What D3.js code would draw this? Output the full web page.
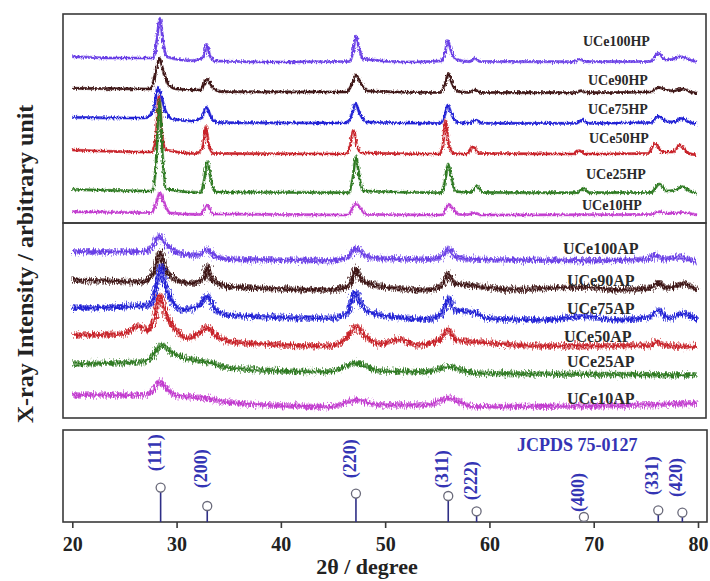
<!DOCTYPE html>
<html><head><meta charset="utf-8">
<script src="https://cdn.jsdelivr.net/npm/d3@7"></script>
<style>body{margin:0;background:#fff}svg{display:block}</style>
</head><body><svg id="c" width="710" height="581"></svg>
<script>
// ---------- DATA (2θ in degrees, intensity in arbitrary units incl. stacking offset) ----------
const xTicks = [20, 30, 40, 50, 60, 70, 80];

const hpNames = ["UCe100HP", "UCe90HP", "UCe75HP", "UCe50HP", "UCe25HP", "UCe10HP"];
const apNames = ["UCe100AP", "UCe90AP", "UCe75AP", "UCe50AP", "UCe25AP", "UCe10AP"];

const uce100HP = [[20,166.3],[24,165],[27.8,165],[28.1,183],[28.4,204.7],[28.7,181],[29.1,166],[31.5,162.3],[32.6,166],[32.9,178.7],[33.2,167],[33.7,162],[40,161],[46.6,161.5],[46.95,173],[47.2,187],[47.5,175],[47.9,164],[52,161],[55.4,162],[55.75,171],[56.0,182.3],[56.3,173],[56.8,163.5],[58.1,161.3],[58.6,164.7],[59.1,161.5],[68.2,161.3],[68.7,163.7],[69.2,161.3],[75.4,161.5],[76.2,169.7],[76.9,163],[77.6,164],[78.3,166.3],[79.0,164],[79.9,161.3]];
const uce90HP = [[20,134.7],[27.5,134],[28.0,151],[28.35,164.7],[28.7,153],[29.2,139],[30.0,134],[32.3,133],[32.9,143.7],[33.5,135],[34.3,131.3],[46.3,131],[46.9,141],[47.2,148],[47.6,141],[48.3,132],[55.3,130.5],[55.8,141],[56.05,149.7],[56.4,140],[57.0,131.5],[58.0,130.5],[58.6,133],[59.2,130.5],[68.2,130.3],[68.8,132.3],[69.4,130.3],[75.5,131],[76.2,135.7],[77.0,133],[77.7,132],[78.5,134],[79.3,131],[79.9,129.7]];
const uce75HP = [[20,105.7],[27.0,105],[27.8,113],[28.2,135.7],[28.5,128],[28.9,113],[29.6,104],[31.5,102],[32.4,105],[32.85,115.7],[33.3,106],[34.0,100.3],[46.3,100],[46.85,110],[47.15,119.7],[47.5,111],[48.2,101],[55.3,99.7],[55.75,109],[56.0,118],[56.35,109],[57.0,100.5],[58.1,100],[58.7,103],[59.3,99.7],[68.3,99.7],[68.9,103],[69.5,99.7],[75.5,100.5],[76.2,107],[76.9,102],[77.7,101],[78.4,104.7],[79.1,101],[79.9,99]];
const uce50HP = [[20,73],[27.6,71],[28.0,83],[28.3,127],[28.6,88],[29.0,73],[31.8,69.5],[32.5,75],[32.8,96.3],[33.1,77],[33.6,69.5],[46.2,69],[46.65,78],[46.95,93],[47.3,77],[47.8,70],[55.2,69],[55.55,78],[55.8,103],[56.1,78],[56.6,69.5],[57.8,69],[58.4,76.3],[59.0,69.5],[68.0,69],[68.6,72.3],[69.2,69],[75.2,69.5],[75.9,79.7],[76.6,71],[77.6,71],[78.3,78],[79.0,70],[79.9,68]];
const uce25HP = [[20,33.7],[27.7,32],[28.05,63],[28.35,123],[28.65,68],[29.0,34],[32.3,30.3],[32.65,43],[32.95,61.3],[33.3,43],[33.7,31],[46.5,30.3],[46.9,45],[47.2,66.3],[47.5,48],[47.9,32],[55.4,30.3],[55.75,43],[56.05,59],[56.35,45],[56.8,31.5],[58.2,30.5],[58.8,37],[59.4,30.5],[68.4,30.3],[69.0,34.7],[69.6,30.3],[75.5,30.5],[76.3,39],[77.0,32],[77.8,33],[78.5,36.3],[79.2,32],[79.9,29.7]];
const uce10HP = [[20,11.3],[27.6,10.5],[28.1,22],[28.4,30.3],[28.8,20],[29.4,10],[32.3,8.5],[32.9,18],[33.5,9],[46.4,8],[46.9,15],[47.2,19.7],[47.6,15],[48.2,8.5],[55.4,8],[55.9,16],[56.1,18.7],[56.5,14],[57.1,8.5],[58.0,8.5],[58.6,10.3],[59.2,8],[75.5,8.5],[76.3,11.3],[77.0,9.5],[78.5,10.5],[79.9,8]];

const uce100AP = [[20,166.3],[24,166],[26.8,166.3],[27.7,172],[28.3,182],[28.9,174],[30.0,166],[31.2,163],[32.0,163],[32.9,168],[33.8,161.3],[35.1,158.7],[40,158],[44.7,157.3],[46.3,160],[47.2,169.7],[48.1,162],[49.5,159.5],[54,158.7],[55.3,160.5],[56.0,168.7],[56.8,161],[58.8,158.7],[65,157.7],[69.9,157.3],[75.2,159],[75.9,163],[76.8,159],[78.3,161],[79.0,158.5],[79.9,157.3]];
const uce90AP = [[20,138],[26.8,136.3],[27.8,146],[28.2,160],[28.45,166],[28.8,153],[29.4,142],[31.3,134.7],[32.6,139],[32.95,152],[33.3,139],[35.1,131.3],[44.7,128],[46.5,132],[47.0,144],[47.2,149.7],[47.6,140],[48.8,133],[54.0,128],[55.5,133],[56.05,144.7],[56.6,135],[58.8,132],[62,128.5],[69.3,131],[72,128],[75.5,130],[76.2,135.3],[77.0,130],[78.6,134],[79.9,128]];
const uce75AP = [[20,109.7],[27.4,113],[28.1,133],[28.5,152],[28.9,133],[29.6,116],[30.6,108],[32.2,113],[32.9,122],[33.6,110],[34.8,103],[44.7,99.7],[46.4,105],[47.1,126.3],[47.7,113],[48.8,104.7],[54,98.7],[55.5,105],[56.1,119.7],[56.7,108],[58.8,104.7],[59.6,100],[65,98],[69.3,101.5],[72,98],[75.4,101],[76.2,108],[77.1,99.7],[78.6,104.7],[79.9,98]];
const uce50AP = [[20,83],[24.9,84],[26.3,92],[27.2,88],[27.9,100],[28.4,123],[29.0,103],[29.7,91.3],[31.0,79.7],[32.3,86],[32.9,91.3],[33.6,84],[35.1,76.3],[44.7,72],[46.3,80],[47.2,91.3],[48.1,82],[49.5,74],[51.4,78.7],[53,73],[55.2,78],[56.0,88],[56.8,78],[58.8,76],[65,72],[75.3,72.5],[76.0,76],[76.9,72.5],[79.9,71.3]];
const uce25AP = [[20,54],[26.8,56.3],[27.8,63],[28.5,73],[29.7,64.7],[31.5,58],[32.9,56.3],[35.1,49.7],[44.7,46.3],[47.2,54.7],[49.5,47],[54,46.3],[56.1,51.3],[58.5,45],[65,44],[79.9,43]];
const uce10AP = [[20,23],[26.8,23],[27.8,28],[28.4,36.3],[29.2,28],[29.8,23],[32.9,19.7],[35.1,15.3],[44.7,11.3],[47.2,18],[49.5,13],[54,13],[56.1,19.7],[58.5,11.3],[70,12],[79.9,14.7]];

// JCPDS 75-0127 reference lines
const hklLabels = ["(111)", "(200)", "(220)", "(311)", "(222)", "(400)", "(331)", "(420)"];
const hklPos    = [28.47, 32.94, 47.2, 56.05, 58.77, 69.06, 76.19, 78.5];
const hklInt    = [34.4, 16, 28.4, 26, 10.7, 5, 11.7, 9.4];

// ---------- LAYOUT / STYLE ----------
const hpSeries = [uce100HP, uce90HP, uce75HP, uce50HP, uce25HP, uce10HP];
const apSeries = [uce100AP, uce90AP, uce75AP, uce50AP, uce25AP, uce10AP];
const colors = ["#6a3fe6", "#3c1414", "#2424d6", "#c8242a", "#2f7a22", "#c23ccf"];
const hpLabelY = [40.7, 80, 109, 138.3, 174.3, 205];
const hpLabelX = [583, 588, 588, 589, 586, 582];
const apLabelY = [248.3, 280, 308.3, 336.7, 361.7, 398.3];
const apLabelX = [563, 567, 567, 564, 567, 567];
const hklLabelGap = [16.3, 17.7, 15.3, 7.7, 11, 5, 15, 15.6];

const L = 63, R = 706;
const serif = "'Liberation Serif','Times New Roman',serif";
const svg = d3.select("#c");

const x = d3.scaleLinear().domain([20, 80]).range([72.3, 698]);
const hpY = d3.scaleLinear().domain([0, 209]).range([223, 14]);
const apY = d3.scaleLinear().domain([0, 195]).range([418, 223]);
const stY = d3.scaleLinear().domain([0, 92]).range([522, 430]);

const defs = svg.append("defs");
defs.append("clipPath").attr("id", "cTop").append("rect").attr("x", L).attr("y", 14).attr("width", R - L).attr("height", 404);
function noiseFilter(id, freq, scale, seed) {
  const f = defs.append("filter").attr("id", id).attr("filterUnits", "userSpaceOnUse")
    .attr("x", 0).attr("y", 0).attr("width", 710).attr("height", 581);
  f.append("feTurbulence").attr("type", "fractalNoise").attr("baseFrequency", freq)
    .attr("numOctaves", 2).attr("seed", seed).attr("result", "t");
  f.append("feDisplacementMap").attr("in", "SourceGraphic").attr("in2", "t")
    .attr("scale", scale).attr("xChannelSelector", "R").attr("yChannelSelector", "G");
}
noiseFilter("nHP", "0.9 0.3", 4, 2);
noiseFilter("nAP", "0.9 0.25", 9, 5);

function drawSet(series, yS, band, core, names, lx, ly, fs, filt, bandOp) {
  const g = svg.append("g").attr("clip-path", "url(#cTop)").append("g").attr("filter", `url(#${filt})`);
  const line = d3.line().x(d => x(d[0])).y(d => yS(d[1])).curve(d3.curveMonotoneX);
  series.forEach((s, i) => {
    g.append("path").attr("d", line(s)).attr("fill", "none").attr("stroke", colors[i])
      .attr("stroke-width", band).attr("stroke-opacity", bandOp).attr("stroke-linejoin", "round");
    g.append("path").attr("d", line(s)).attr("fill", "none").attr("stroke", colors[i])
      .attr("stroke-width", core).attr("stroke-linejoin", "round");
  });
  names.forEach((n, i) => {
    svg.append("text").attr("x", lx[i]).attr("y", ly[i]).attr("dy", "0.35em")
      .attr("font-family", serif).attr("font-weight", "bold").attr("font-size", fs)
      .attr("fill", "#2a2a2a").text(n);
  });
}
drawSet(hpSeries, hpY, 3.2, 2.0, hpNames, hpLabelX, hpLabelY, 14, "nHP", 0.55);
drawSet(apSeries, apY, 5.5, 2.6, apNames, apLabelX, apLabelY, 16, "nAP", 0.65);

// frames
function box(x0, y0, x1, y1) {
  svg.append("rect").attr("x", x0).attr("y", y0).attr("width", x1 - x0).attr("height", y1 - y0)
    .attr("fill", "none").attr("stroke", "#3a3a3a").attr("stroke-width", 1.6);
}
box(L, 14, R, 223);
box(L, 223, R, 418);
box(L, 430, 707, 522);

// stick pattern
const r = 4.5;
const sg = svg.append("g");
hklPos.forEach((p, i) => {
  const cx = x(p), cy = stY(hklInt[i]);
  sg.append("line").attr("x1", cx).attr("x2", cx).attr("y1", stY(0)).attr("y2", cy + r)
    .attr("stroke", "#2e2e86").attr("stroke-width", 1.6);
  sg.append("circle").attr("cx", cx).attr("cy", cy).attr("r", r)
    .attr("fill", "#fff").attr("stroke", "#6a6a7a").attr("stroke-width", 1.3);
  sg.append("text").attr("transform", `translate(${cx},${cy - hklLabelGap[i]}) rotate(-90)`)
    .attr("font-family", serif).attr("font-weight", "bold").attr("font-size", 18)
    .attr("fill", "#3434b4").text(hklLabels[i]);
});
svg.append("text").attr("x", 517).attr("y", 445).attr("dy", "0.35em")
  .attr("font-family", serif).attr("font-weight", "bold").attr("font-size", 18)
  .attr("fill", "#3434b4").text("JCPDS 75-0127");

// x axis
const ax = svg.append("g").attr("transform", "translate(0,522)")
  .call(d3.axisBottom(x).tickValues(xTicks).tickSize(6).tickPadding(9).tickFormat(d3.format("d")));
ax.select(".domain").remove();
ax.selectAll("line").attr("stroke", "#3a3a3a").attr("stroke-width", 1.6);
ax.selectAll("text").attr("font-family", serif).attr("font-weight", "bold").attr("font-size", 20).attr("fill", "#222");

svg.append("text").attr("x", 367).attr("y", 566).attr("dy", "0.35em").attr("text-anchor", "middle")
  .attr("font-family", serif).attr("font-weight", "bold").attr("font-size", 22).attr("fill", "#222")
  .text("2θ / degree");

svg.append("text").attr("transform", "translate(25,264) rotate(-90)").attr("dy", "0.35em")
  .attr("text-anchor", "middle").attr("font-family", serif).attr("font-weight", "bold")
  .attr("font-size", 24).attr("fill", "#222").text("X-ray Intensity / arbitrary unit");
</script></body></html>
